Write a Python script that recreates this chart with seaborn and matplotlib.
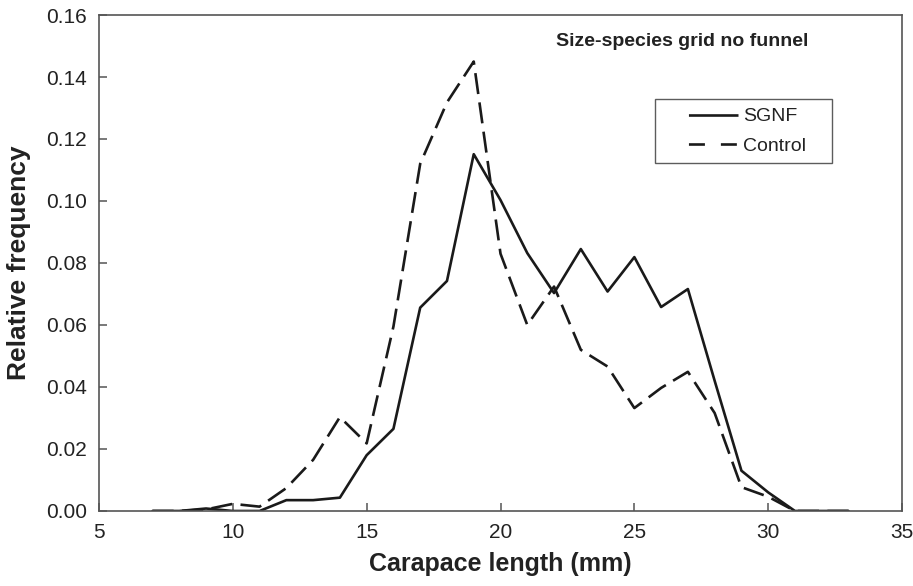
import numpy as np
import pandas as pd
import seaborn as sns
import matplotlib.pyplot as plt
from matplotlib.lines import Line2D

# carapace length classes (mm)
length_mm = list(range(7, 34))

sgnf = [0.0, 0.0, 0.0008, 0.0, 0.0, 0.0035, 0.0035, 0.0043, 0.018, 0.0265,
        0.0656, 0.0742, 0.1151, 0.1003, 0.0832, 0.0703, 0.0845, 0.0708, 0.0819,
        0.0658, 0.0716, 0.042, 0.013, 0.006, 0.0, 0.0, 0.0]
control = [0.0, 0.0, 0.0005, 0.0023, 0.0014, 0.0074, 0.0165, 0.0303, 0.0218, 0.0595,
           0.112, 0.1318, 0.145, 0.083, 0.060, 0.0724, 0.052, 0.0466, 0.0332,
           0.0397, 0.0449, 0.0316, 0.0077, 0.0046, 0.0, 0.0, 0.0]

series_names = ['SGNF', 'Control']
x_ticks = [5, 10, 15, 20, 25, 30, 35]
y_ticks = [0.00, 0.02, 0.04, 0.06, 0.08, 0.10, 0.12, 0.14, 0.16]

df = pd.DataFrame({
    'length': length_mm * 2,
    'freq': sgnf + control,
    'series': [series_names[0]] * len(length_mm) + [series_names[1]] * len(length_mm),
})

sns.set_style('white', {'xtick.bottom': True, 'ytick.left': True})
plt.rcParams['font.family'] = ['Liberation Sans', 'DejaVu Sans']

LW = 1.9
INK = '#1a1a1a'

fig = plt.figure(figsize=(9.13, 5.86), dpi=100)
ax = fig.add_axes([0.1084, 0.128, 0.8796, 0.8464])

sns.lineplot(data=df, x='length', y='freq', style='series',
             dashes={'SGNF': '', 'Control': (8, 3.2)},
             color=INK, linewidth=LW, ax=ax, legend=False)

ax.set_xlim(5, 35)
ax.set_ylim(0, 0.16)
ax.set_xticks(x_ticks)
ax.set_yticks(y_ticks)
ax.set_yticklabels([f'{v:.2f}' for v in y_ticks])
ax.tick_params(direction='in', length=6, width=1.1, color='#555555',
               labelsize=15, pad=8.5, left=True, bottom=True,
               labelcolor='#222222')
for s in ax.spines.values():
    s.set_color('#555555')
    s.set_linewidth(1.2)

ax.set_xlabel('Carapace length (mm)', fontsize=18, fontweight='bold',
              labelpad=7, color='#222222')
ax.set_ylabel('Relative frequency', fontsize=19, fontweight='bold',
              labelpad=11, color='#222222')

ax.text(0.726, 0.946, 'Size-species grid no funnel', transform=ax.transAxes,
        ha='center', va='center', fontsize=14, fontweight='bold', color='#222222')

# legend handles: blank lead-in so the sample lines sit right of the box edge
lead = 17.6 / LW   # in linewidth units
solid_ls = (36 / LW + 100 / LW - lead, (36 / LW, 100 / LW))
dash_ls = (11.5 * 3 / LW + 100 / LW - lead, (11.5 / LW, 11.5 / LW, 11.5 / LW, 100 / LW))
handles = [Line2D([], [], color=INK, lw=LW, linestyle=solid_ls),
           Line2D([], [], color=INK, lw=LW, linestyle=dash_ls)]
leg = ax.legend(handles, series_names, loc='upper left', mode='expand',
                bbox_to_anchor=(0.6924, 0.5, 0.2204, 0.3306), fontsize=14,
                frameon=True, fancybox=False, edgecolor='#333333',
                handlelength=3.8, handletextpad=0.3,
                borderpad=0.45, labelspacing=0.6, borderaxespad=0)
leg.get_frame().set_linewidth(1.0)
for t in leg.get_texts():
    t.set_color('#222222')

fig.savefig('out.png', dpi=100)
